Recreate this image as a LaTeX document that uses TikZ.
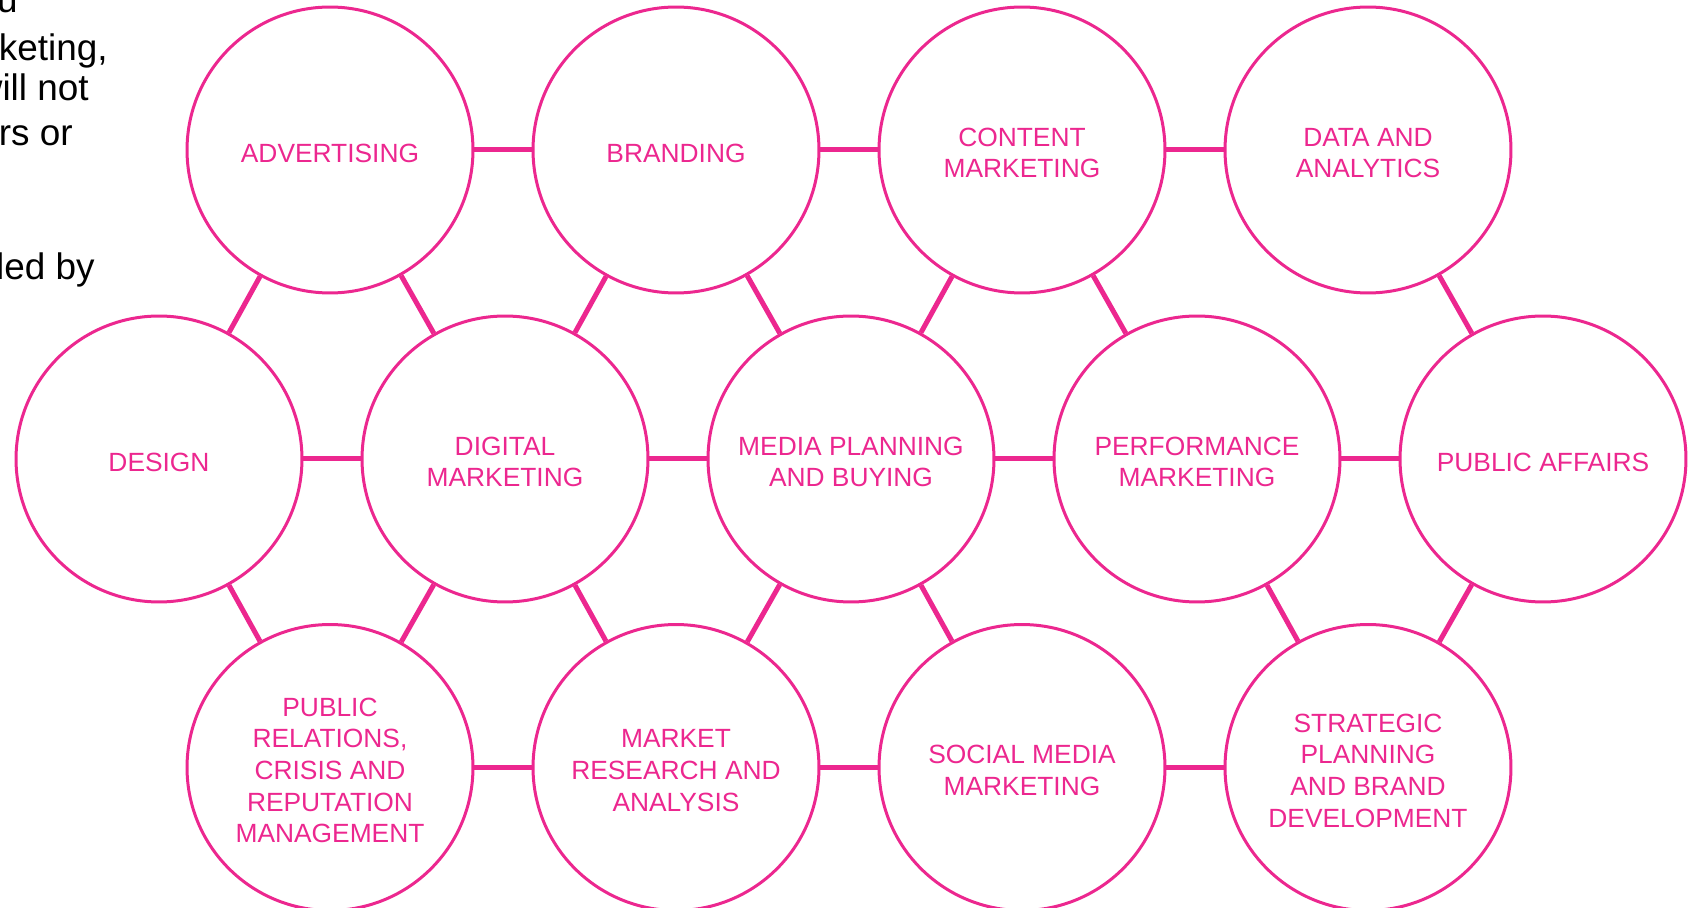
\documentclass[tikz,border=0pt]{standalone}
\usepackage{fontspec}
\setmainfont{Liberation Sans}
\definecolor{pinkline}{RGB}{236,39,143}
\tikzset{
	bubble/.style={circle, draw=pinkline, line width=0.06cm, minimum size=5.72cm, inner sep=0pt},
	caption/.style={inner sep=0pt, text=pinkline, align=center},
	link/.style={draw=pinkline, line width=0.1cm, line cap=butt},
	side/.style={anchor=base east, inner sep=0pt, text=black, font=\fontsize{21}{25}\selectfont}
}
\begin{document}
\begin{tikzpicture}[x=0.02cm, y=-0.02cm, font=\fontsize{15}{18}\selectfont, line join=round]
	\useasboundingbox (0,0) rectangle (1695,908);
	\clip (0,0) rectangle (1695,908);
	% cut-off paragraph on the left
	\node[side] (p1) at (18,13) {u};
	\node[side] (p2) at (108,61) {keting,};
	\node[side] (p3) at (89,101) {will not};
	\node[side] (p4) at (73,146) {rs or};
	\node[side] (p5) at (95,280) {led by};
	% top row
	\foreach \name/\x/\txt in {adv/330/ADVERTISING, brand/676/BRANDING, content/1022/{CONTENT\\MARKETING}, data/1368/{DATA AND\\ANALYTICS}}{
		\node[bubble] (\name) at (\x,150) {};
		\node[caption] (\name-t) at (\x,153) {\txt};
	}
	% middle row
	\foreach \name/\x/\txt in {design/159/DESIGN, digital/505/{DIGITAL\\MARKETING}, media/851/{MEDIA PLANNING\\AND BUYING}, perf/1197/{PERFORMANCE\\MARKETING}, affairs/1543/{PUBLIC AFFAIRS}}{
		\node[bubble] (\name) at (\x,459) {};
		\node[caption] (\name-t) at (\x,462) {\txt};
	}
	% bottom row
	\foreach \name/\x/\txt in {pr/330/{PUBLIC\\RELATIONS,\\CRISIS AND\\REPUTATION\\MANAGEMENT}, research/676/{MARKET\\RESEARCH AND\\ANALYSIS}, social/1022/{SOCIAL MEDIA\\MARKETING}, strategy/1368/{STRATEGIC\\PLANNING\\AND BRAND\\DEVELOPMENT}}{
		\node[bubble] (\name) at (\x,767.5) {};
		\node[caption] (\name-t) at (\x,770.5) {\txt};
	}
	% links
	\foreach \a/\b in {adv/brand, brand/content, content/data,
		design/digital, digital/media, media/perf, perf/affairs,
		pr/research, research/social, social/strategy,
		adv/design, adv/digital, brand/digital, brand/media, content/media, content/perf, data/affairs,
		design/pr, digital/pr, digital/research, media/research, media/social, perf/strategy, affairs/strategy}
		\draw[link] (\a) -- (\b);
\end{tikzpicture}
\end{document}
